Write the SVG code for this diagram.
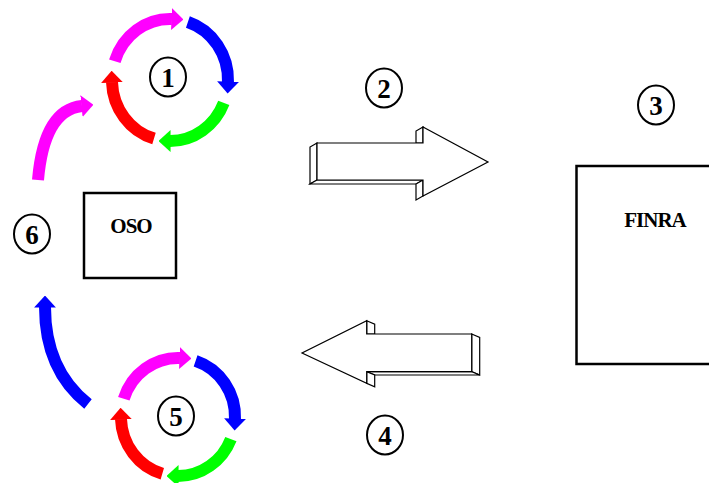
<svg xmlns="http://www.w3.org/2000/svg" width="709" height="483" viewBox="0 0 709 483">
<style>
.num{font-family:"Liberation Serif","Times New Roman",serif;font-weight:bold;font-size:27px;text-anchor:middle;fill:#000}
.lbl{font-family:"Liberation Serif","Times New Roman",serif;font-weight:bold;font-size:21px;text-anchor:middle;fill:#000;letter-spacing:-1px}
.ring{fill:#fff;stroke:#000;stroke-width:2}
.box{fill:#fff;stroke:#000;stroke-width:2.5}
.face{fill:#fff;stroke:#000;stroke-width:1.2;stroke-linejoin:miter}
.arc{fill:none;stroke-width:12}
.m{stroke:#ff00ff}.b{stroke:#0000ff}.g{stroke:#00ff00}.r{stroke:#ff0000}
</style>
<defs>
<marker id="hm" viewBox="0 0 11 20" markerUnits="strokeWidth" markerWidth="1.0" markerHeight="1.9" refX="0.5" refY="10" orient="auto"><path d="M0,0 L11,10 L0,20 z" fill="#ff00ff"/></marker>
<marker id="hb" viewBox="0 0 11 20" markerUnits="strokeWidth" markerWidth="1.0" markerHeight="1.9" refX="0.5" refY="10" orient="auto"><path d="M0,0 L11,10 L0,20 z" fill="#0000ff"/></marker>
<marker id="hg" viewBox="0 0 11 20" markerUnits="strokeWidth" markerWidth="1.0" markerHeight="1.9" refX="0.5" refY="10" orient="auto"><path d="M0,0 L11,10 L0,20 z" fill="#00ff00"/></marker>
<marker id="hr" viewBox="0 0 11 20" markerUnits="strokeWidth" markerWidth="1.0" markerHeight="1.9" refX="0.5" refY="10" orient="auto"><path d="M0,0 L11,10 L0,20 z" fill="#ff0000"/></marker>
</defs>
<rect width="709" height="483" fill="#fff"/>
<g id="connectors">
<g id="cycle-1">
<path class="arc m" d="M114.8,61.2 A58,61 0 0 1 172,19" marker-end="url(#hm)"/>
<path class="arc b" d="M187.9,22 A58,61 0 0 1 228,82.1" marker-end="url(#hb)"/>
<path class="arc g" d="M223.8,102.9 A58,61 0 0 1 170,141" marker-end="url(#hg)"/>
<path class="arc r" d="M154,138.6 A58,61 0 0 1 112,82.1" marker-end="url(#hr)"/>
</g>
<g id="cycle-5">
<path class="arc m" d="M123.8,398.8 A57,59 0 0 1 180,358" marker-end="url(#hm)"/>
<path class="arc b" d="M195.6,360.9 A57,59 0 0 1 235,419.1" marker-end="url(#hb)"/>
<path class="arc g" d="M230.9,439.1 A57,59 0 0 1 178,476" marker-end="url(#hg)"/>
<path class="arc r" d="M162.3,473.7 A57,59 0 0 1 121,419.1" marker-end="url(#hr)"/>
</g>
<g id="cycle-6">
<path class="arc m" d="M38,180 Q44,110 82,106" marker-end="url(#hm)"/>
<path class="arc b" d="M88,404 Q45,370 45,307" marker-end="url(#hb)"/>
</g>
<g id="arrow-right">
<polygon class="face" points="317,143 310,147 310,184 317,180"/>
<polygon class="face" points="317,180 423,180 416,184 310,184"/>
<polygon class="face" points="423,127 416,131 416,143 423,143"/>
<polygon class="face" points="423,180 423,196 416,200 416,184"/>
<polygon class="face" points="317,143 423,143 423,127 488,162 423,196 423,180 317,180"/>
</g>
<g id="arrow-left">
<polygon class="face" points="471.7,334 479.7,337.5 479.7,375 471.7,371.7"/>
<polygon class="face" points="366.7,371.7 471.7,371.7 479.7,375 374.7,375"/>
<polygon class="face" points="366.7,320.7 374.7,324.2 374.7,334 366.7,334"/>
<polygon class="face" points="366.7,371.7 366.7,383.3 374.7,386.8 374.7,375"/>
<polygon class="face" points="471.7,334 366.7,334 366.7,320.7 302,353 366.7,383.3 366.7,371.7 471.7,371.7"/>
</g>
</g>
<g id="node-oso">
<rect class="box" x="84" y="193" width="92" height="85"/>
<text class="lbl" x="131" y="233">OSO</text>
</g>
<g id="node-finra">
<rect class="box" x="576.5" y="166" width="140" height="198"/>
<text class="lbl" x="655" y="227">FINRA</text>
</g>
<g id="step-1"><ellipse class="ring" cx="168" cy="77" rx="18" ry="19.5"/><text class="num" x="168" y="86.5">1</text></g>
<g id="step-2"><ellipse class="ring" cx="384" cy="88" rx="18" ry="19.5"/><text class="num" x="384" y="97.5">2</text></g>
<g id="step-3"><ellipse class="ring" cx="656" cy="105" rx="18" ry="19.5"/><text class="num" x="656" y="114.5">3</text></g>
<g id="step-4"><ellipse class="ring" cx="385" cy="435" rx="18" ry="19.5"/><text class="num" x="385" y="444.5">4</text></g>
<g id="step-5"><ellipse class="ring" cx="176" cy="416" rx="18" ry="19.5"/><text class="num" x="176" y="425.5">5</text></g>
<g id="step-6"><ellipse class="ring" cx="32" cy="234" rx="18" ry="19.5"/><text class="num" x="32" y="243.5">6</text></g>
</svg>
